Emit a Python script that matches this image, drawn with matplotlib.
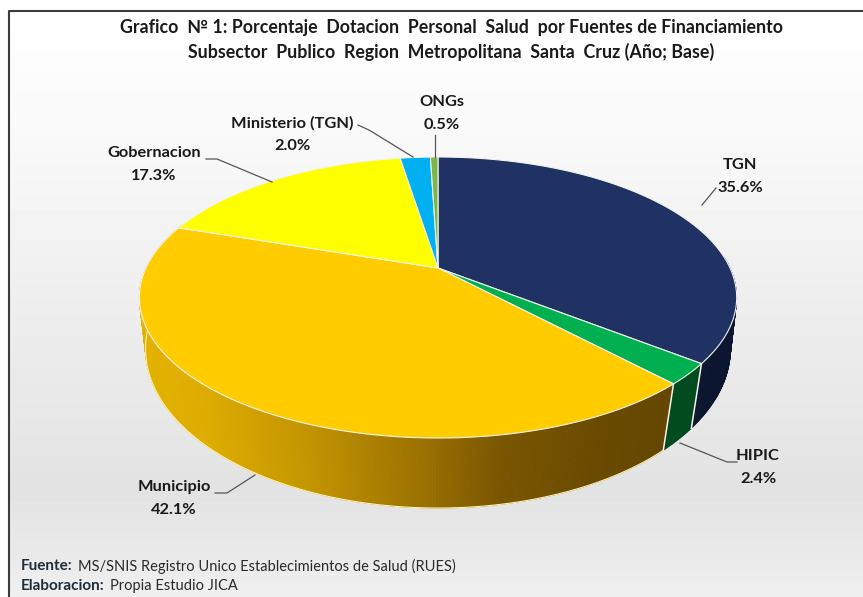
import matplotlib
matplotlib.use('Agg')
import matplotlib.pyplot as plt
from matplotlib.patches import Polygon
from matplotlib.colors import to_rgb
import numpy as np

# chart data, clockwise from 12 o'clock
categories = ['TGN', 'HIPIC', 'Municipio', 'Gobernacion', 'Ministerio (TGN)', 'ONGs']
values = [35.6, 2.4, 42.1, 17.3, 2.0, 0.5]
top_colors = ['#1f3263', '#00b050', '#ffcc00', '#ffff00', '#00b0f0', '#7ab648']
side_colors = ['#0d1630', '#004a1e', None, '#a0a000', '#0070a0', '#406020']

title_lines = ['Grafico  № 1: Porcentaje  Dotacion  Personal  Salud  por Fuentes de Financiamiento',
               'Subsector  Publico  Region  Metropolitana  Santa  Cruz (Año; Base)']

W, H = 863, 597

# perspective of the disc: centre, radii, foreshortening
CX = 438
TOP = dict(cy=268, rx=292, ry=134.3, k=0.21)
BOTTOM = dict(cy=321, rx=288, ry=154.5, k=0.174)


def project(angle, d):
    # angle in degrees, clockwise from the top of the disc
    a = np.radians(angle)
    x, y = np.sin(a), np.cos(a)
    den = 1 + d['k'] * y
    return CX + d['rx'] * x / den, d['cy'] - d['ry'] * y / den


def municipio_side(x):
    stops = [143, 200, 300, 430, 500, 600, 670]
    reds = [226, 222, 196, 152, 122, 106, 100]
    greens = [178, 172, 150, 110, 86, 74, 70]
    return (np.interp(x, stops, reds) / 255, np.interp(x, stops, greens) / 255, 0)


fig = plt.figure(figsize=(W / 100, H / 100), dpi=100, facecolor='white')
ax = fig.add_axes([0, 0, 1, 1])
ax.set_xlim(0, W)
ax.set_ylim(H, 0)
ax.axis('off')

# panel background
grad_y = np.arange(11, H)
grad = np.interp(grad_y, [11, 150, 300, 490, 560, 597], [255, 248, 238, 227, 234, 240]) / 255
ax.imshow(grad[:, None], extent=[9, W, H, 11], aspect='auto', cmap='gray', vmin=0, vmax=1, zorder=0)
ax.plot([9, 9, W], [H, 11, 11], color='#3c3c3c', lw=1.5, zorder=1)
ax.set_xlim(0, W)
ax.set_ylim(H, 0)

# slice angles from the values
fracs = np.array(values) / sum(values) * 360
ends = np.cumsum(fracs)
starts = ends - fracs

# side wall first, only the front part shows
for i, (t1, t2) in enumerate(zip(starts, ends)):
    lo, hi = max(t1, 85), min(t2, 290)
    if lo >= hi:
        continue
    steps = np.linspace(lo, hi, int((hi - lo) * 2) + 2)
    for a, b in zip(steps[:-1], steps[1:]):
        p = [project(a, TOP), project(b, TOP), project(b, BOTTOM), project(a, BOTTOM)]
        if side_colors[i] is None:
            c = municipio_side((p[0][0] + p[1][0]) / 2)
        else:
            c = to_rgb(side_colors[i])
        ax.add_patch(Polygon(p, closed=True, fc=c, ec=c, lw=0.6, zorder=2))
    # pale rim along the bottom edge
    bx, by = zip(*[project(a, BOTTOM) for a in steps])
    if categories[i] == 'Municipio':
        ax.plot(bx, by, color='#fff2b0', lw=0.8, zorder=3)
    # vertical split lines
    if 100 < t2 < 200:
        ax.plot(*zip(project(t2, TOP), project(t2, BOTTOM)), color='#f4f4ee', lw=1.1, zorder=3)

# top face
for i, (t1, t2) in enumerate(zip(starts, ends)):
    arc = [project(a, TOP) for a in np.linspace(t1, t2, int(t2 - t1) * 2 + 3)]
    ax.add_patch(Polygon([(CX, TOP['cy'])] + arc, closed=True, fc=top_colors[i],
                         ec='#f4f4ee', lw=0.8, zorder=4))

# leader lines
leaders = [
    ([716, 702], [188, 205]),
    ([737, 727, 680], [462, 462, 443]),
    ([215, 227, 255], [493, 493, 475]),
    ([206, 217, 272], [159, 159, 182]),
    ([358, 369, 413], [125, 130, 157]),
    ([435, 435], [135, 157]),
]
for lx, ly in leaders:
    ax.plot(lx, ly, color='#555555', lw=0.9, zorder=5)

# data labels
label_pos = [(740, 165), (758, 456), (174, 487), (154, 153), (292, 123), (442, 102)]
for name, val, (tx, ty) in zip(categories, values, label_pos):
    ax.text(tx, ty, name, ha='center', va='center', family='Lato', weight='bold',
            fontsize=11.8, color='#1a1a1a', zorder=6)
    ax.text(tx, ty + 23, f'{val:.1f}%', ha='center', va='center', family='Lato', weight='bold',
            fontsize=11.8, color='#1a1a1a', zorder=6)

# title
ax.text(451, 28, title_lines[0], ha='center', va='center', family='Lato', weight='bold',
        fontsize=12.8, color='#1a1a1a', zorder=6)
ax.text(451, 52, title_lines[1], ha='center', va='center', family='Lato', weight='bold',
        fontsize=12.8, color='#1a1a1a', zorder=6)

# source notes
ax.text(21, 566, 'Fuente:', ha='left', va='center', family='Lato', weight='bold',
        fontsize=11, color='#1f2d3a', zorder=6)
ax.text(78, 566, 'MS/SNIS Registro Unico Establecimientos de Salud (RUES)', ha='left', va='center',
        family='Lato', fontsize=10.5, color='#2a2a2a', zorder=6)
ax.text(21, 586, 'Elaboracion:', ha='left', va='center', family='Lato', weight='bold',
        fontsize=11, color='#1f2d3a', zorder=6)
ax.text(110, 586, 'Propia Estudio JICA', ha='left', va='center', family='Lato',
        fontsize=10.5, color='#2a2a2a', zorder=6)

fig.savefig('out.png', dpi=100, facecolor='white')
